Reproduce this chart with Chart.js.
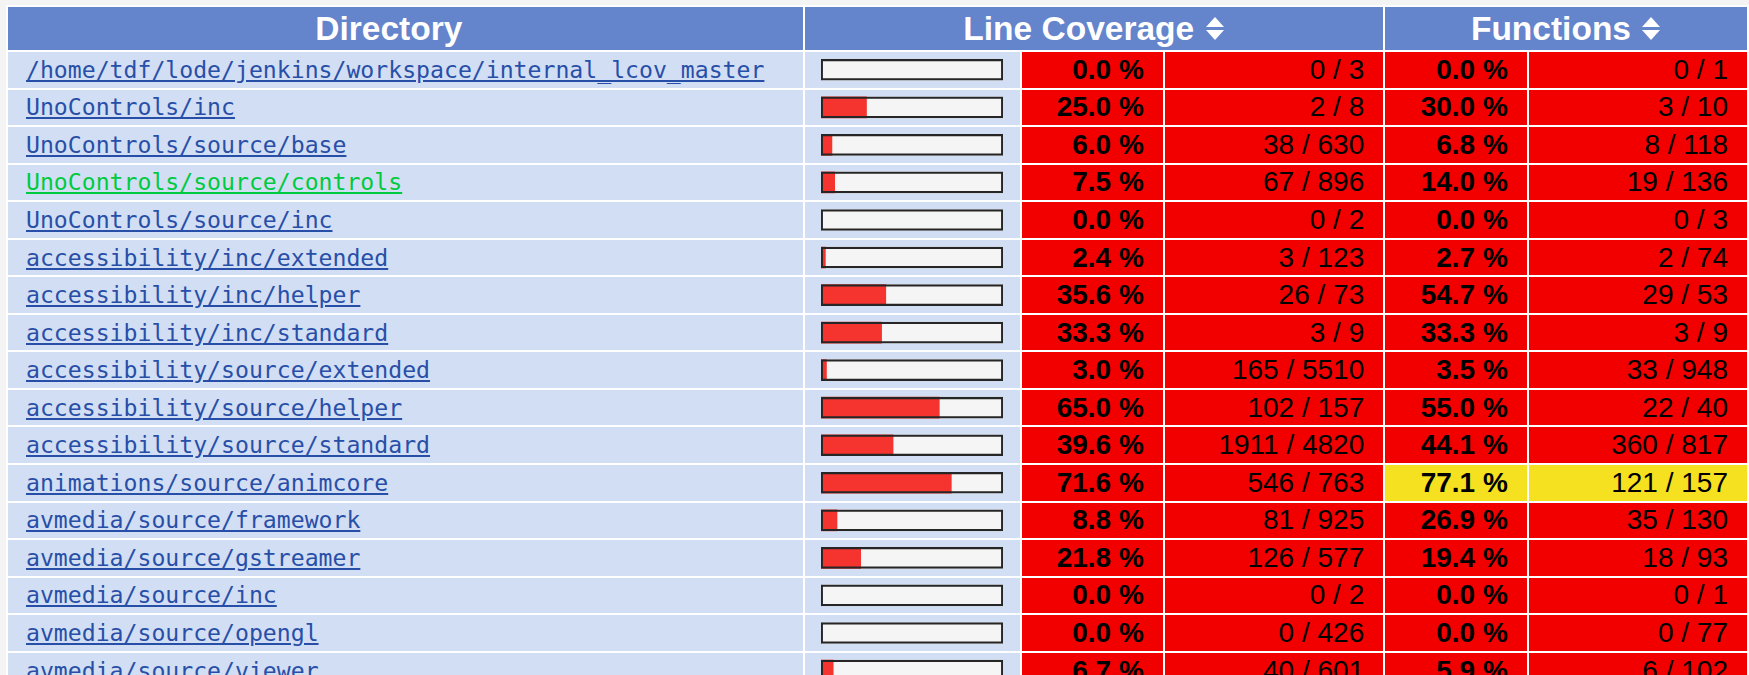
<!DOCTYPE html>
<html>
<head>
<meta charset="utf-8">
<script src="https://cdn.jsdelivr.net/npm/chart.js@4"></script>
<style>
  html, body { margin: 0; padding: 0; background: #f4f4f4; overflow: hidden; width: 1749px; height: 675px; }
  table { position: absolute; left: 6px; top: 5px; border-spacing: 2px; background: #fff; table-layout: fixed; }
  th { background: #6484cc; color: #fff; font: bold 33.5px "Liberation Sans", Arial, sans-serif; height: 43px; padding: 0; text-align: center; vertical-align: middle; }
  td { height: 35.55px; padding: 0; box-sizing: border-box; vertical-align: middle; font: 28px "Liberation Sans", Arial, sans-serif; color: #000; white-space: nowrap; }
  td.dir { background: #d2def3; padding-left: 18px; font: 23.15px "DejaVu Sans Mono", monospace; }
  td.dir a { color: #284fa8; text-decoration: underline; }
  td.dir a.visited { color: #00cb40; }
  td.bar { background: #d2def3; }
  td.num { text-align: right; padding-right: 19px; }
  td.pct { font-weight: bold; }
  .sort { display: inline-block; width: 19px; height: 23px; margin-left: 2px; position: relative; vertical-align: baseline; }
  .sort::before, .sort::after { content: ""; position: absolute; left: 0; border-left: 9.5px solid transparent; border-right: 9.5px solid transparent; }
  .sort::before { top: 0; border-bottom: 10px solid #fff; }
  .sort::after { bottom: 0; border-top: 10px solid #fff; }
  #barBox { position: absolute; }
</style>
</head>
<body>
<table id="tbl">
  <colgroup>
    <col style="width:795px"><col style="width:218px"><col style="width:141px">
    <col style="width:219px"><col style="width:142px"><col style="width:219px">
  </colgroup>
  <thead>
    <tr>
      <th style="padding-right:33px">Directory</th>
      <th colspan="3">Line Coverage <span class="sort"></span></th>
      <th colspan="2">Functions <span class="sort"></span></th>
    </tr>
  </thead>
  <tbody id="rows"></tbody>
</table>
<div id="barBox"><canvas id="bar-chart"></canvas></div>

<script>
// data
const dirs = [
  "/home/tdf/lode/jenkins/workspace/internal_lcov_master",
  "UnoControls/inc",
  "UnoControls/source/base",
  "UnoControls/source/controls",
  "UnoControls/source/inc",
  "accessibility/inc/extended",
  "accessibility/inc/helper",
  "accessibility/inc/standard",
  "accessibility/source/extended",
  "accessibility/source/helper",
  "accessibility/source/standard",
  "animations/source/animcore",
  "avmedia/source/framework",
  "avmedia/source/gstreamer",
  "avmedia/source/inc",
  "avmedia/source/opengl",
  "avmedia/source/viewer",
];
const linePct = [0.0, 25.0, 6.0, 7.5, 0.0, 2.4, 35.6, 33.3, 3.0, 65.0, 39.6, 71.6, 8.8, 21.8, 0.0, 0.0, 6.7];
const lineHit = [0, 2, 38, 67, 0, 3, 26, 3, 165, 102, 1911, 546, 81, 126, 0, 0, 40];
const lineTotal = [3, 8, 630, 896, 2, 123, 73, 9, 5510, 157, 4820, 763, 925, 577, 2, 426, 601];
const funcPct = [0.0, 30.0, 6.8, 14.0, 0.0, 2.7, 54.7, 33.3, 3.5, 55.0, 44.1, 77.1, 26.9, 19.4, 0.0, 0.0, 5.9];
const funcHit = [0, 3, 8, 19, 0, 2, 29, 3, 33, 22, 360, 121, 35, 18, 0, 0, 6];
const funcTotal = [1, 10, 118, 136, 3, 74, 53, 9, 948, 40, 817, 157, 130, 93, 1, 77, 102];
const visited = ["UnoControls/source/controls"];

// lcov default limits: below 75 is low, below 90 medium
function rateColor(p) {
  if (p < 75) return "#f20000";
  if (p < 90) return "#f5e11f";
  return "#a7fc9d";
}

const tbody = document.getElementById("rows");
dirs.forEach((d, i) => {
  const tr = document.createElement("tr");
  const cls = visited.includes(d) ? ' class="visited"' : "";
  tr.innerHTML =
    '<td class="dir"><a href="#"' + cls + ">" + d + "</a></td>" +
    '<td class="bar"></td>' +
    '<td class="num pct" style="background:' + rateColor(linePct[i]) + '">' + linePct[i].toFixed(1) + " %</td>" +
    '<td class="num" style="background:' + rateColor(linePct[i]) + '">' + lineHit[i] + " / " + lineTotal[i] + "</td>" +
    '<td class="num pct" style="background:' + rateColor(funcPct[i]) + '">' + funcPct[i].toFixed(1) + " %</td>" +
    '<td class="num" style="background:' + rateColor(funcPct[i]) + '">' + funcHit[i] + " / " + funcTotal[i] + "</td>";
  tbody.appendChild(tr);
});

// line up the chart with the bar column of the table
const barCells = tbody.querySelectorAll("td.bar");
const r0 = barCells[0].getBoundingClientRect();
const r1 = barCells[1].getBoundingClientRect();
const pitch = r1.top - r0.top;
const box = document.getElementById("barBox");
const barWidth = 182;
box.style.left = (r0.left + (r0.width - barWidth) / 2) + "px";
box.style.width = barWidth + "px";
box.style.top = (r0.top + r0.height / 2 - pitch / 2) + "px";
box.style.height = (pitch * dirs.length) + "px";

new Chart(document.getElementById("bar-chart"), {
  type: "bar",
  data: {
    labels: dirs,
    datasets: [
      {
        // black frame on top
        data: dirs.map(() => 100),
        backgroundColor: "rgba(0,0,0,0)",
        borderColor: "#262626",
        borderWidth: 1.6,
        borderSkipped: false,
        grouped: false,
        barThickness: 21,
      },
      {
        // covered part
        data: linePct,
        backgroundColor: "#f5332f",
        borderWidth: 0,
        grouped: false,
        barThickness: 21,
      },
      {
        // empty track
        data: dirs.map(() => 100),
        backgroundColor: "#f5f5f5",
        borderWidth: 0,
        grouped: false,
        barThickness: 21,
      },
    ],
  },
  options: {
    indexAxis: "y",
    responsive: true,
    maintainAspectRatio: false,
    animation: false,
    layout: { padding: 0 },
    plugins: { legend: { display: false }, tooltip: { enabled: false } },
    scales: {
      x: { display: false, min: 0, max: 100 },
      y: { display: false },
    },
  },
});
</script>
</body>
</html>
